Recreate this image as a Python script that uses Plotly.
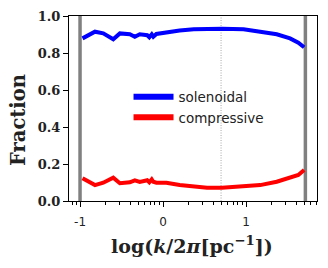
import plotly.graph_objects as go

# log10(k/2pi) values and fractions
logk = [-0.97, -0.82, -0.72, -0.60, -0.52, -0.40, -0.34, -0.28, -0.19, -0.165, -0.136, -0.117,
        -0.08, 0.04, 0.20, 0.37, 0.53, 0.71, 0.97, 1.17, 1.37, 1.53, 1.63, 1.70]
solenoidal = [0.879, 0.915, 0.906, 0.874, 0.906, 0.901, 0.888, 0.901, 0.896, 0.885, 0.901, 0.888,
              0.903, 0.912, 0.921, 0.928, 0.931, 0.931, 0.928, 0.917, 0.901, 0.879, 0.856, 0.831]
compressive = [0.123, 0.086, 0.099, 0.126, 0.096, 0.101, 0.112, 0.103, 0.112, 0.101, 0.117, 0.104,
               0.099, 0.099, 0.086, 0.077, 0.072, 0.072, 0.077, 0.086, 0.104, 0.126, 0.141, 0.168]

series_names = ["solenoidal", "compressive"]
series_colors = ["#0000ff", "#ff0000"]

resolution_limits = [-1.0, 1.715]
dotted_mark = 0.699
x_range_log = [-1.133, 1.855]
x_major = [-1, 0, 1]
x_major_labels = ["-1", "0", "1"]
y_ticks = [0.0, 0.2, 0.4, 0.6, 0.8, 1.0]

k = [10 ** v for v in logk]

fig = go.Figure()
for name, col, vals in zip(series_names, series_colors, [solenoidal, compressive]):
    fig.add_trace(go.Scatter(x=k, y=vals, mode="lines", name=name, showlegend=False,
                             line=dict(color=col, width=4)))
    # legend-only entry with a thicker sample line
    fig.add_trace(go.Scatter(x=[None], y=[None], mode="lines", name=name,
                             line=dict(color=col, width=6)))

for v in resolution_limits:
    fig.add_shape(type="line", xref="x", yref="paper", x0=10 ** v, x1=10 ** v, y0=0, y1=1,
                  line=dict(color="#808080", width=3.5), layer="below")
fig.add_shape(type="line", xref="x", yref="paper", x0=10 ** dotted_mark, x1=10 ** dotted_mark,
              y0=0, y1=1, line=dict(color="#909090", width=0.8, dash="1px,1.5px"), layer="below")

minor_vals = []
for dec in [-2, -1, 0, 1]:
    for m in range(2, 10):
        minor_vals.append(m * 10 ** dec)

fig.update_layout(
    width=328, height=268,
    margin=dict(l=69, r=11, t=16, b=67),
    plot_bgcolor="white", paper_bgcolor="white",
    showlegend=True,
    legend=dict(x=0.24, y=0.646, xanchor="left", yanchor="top",
                bgcolor="rgba(0,0,0,0)", font=dict(family="DejaVu Sans", size=13.5, color="#222"),
                itemwidth=40, tracegroupgap=0),
    annotations=[
        dict(text="<b>log(<i>k</i>/2<i>π</i>[pc<sup>−1</sup>])</b>", xref="paper", yref="paper",
             x=0.494, y=-0.238, xanchor="center", yanchor="middle", showarrow=False,
             font=dict(family="DejaVu Serif", size=19, color="#222")),
        dict(text="<b>Fraction</b>", xref="paper", yref="paper",
             x=-0.2016, y=0.438, xanchor="center", yanchor="middle", showarrow=False,
             textangle=-90, font=dict(family="DejaVu Serif", size=19.5, color="#222")),
    ],
)
fig.update_xaxes(
    type="log", range=x_range_log, automargin=False,
    tickmode="array", tickvals=[10 ** v for v in x_major], ticktext=x_major_labels,
    ticks="outside", ticklen=5, tickwidth=1, tickcolor="black", ticklabelstandoff=4,
    showline=True, linecolor="black", linewidth=1.2, mirror=True,
    showgrid=False, zeroline=False,
    tickfont=dict(family="DejaVu Sans", size=12, color="#222"),
    minor=dict(tickmode="array", tickvals=minor_vals, ticks="outside", ticklen=3,
               tickwidth=1, tickcolor="black", showgrid=False),
)
fig.update_yaxes(
    range=[0, 1], automargin=False, tickmode="array", tickvals=y_ticks,
    ticktext=["<b>%.1f</b>" % v for v in y_ticks],
    ticks="outside", ticklen=5, tickwidth=1, tickcolor="black",
    showline=True, linecolor="black", linewidth=1.2, mirror=True,
    showgrid=False, zeroline=False,
    tickfont=dict(family="DejaVu Serif", size=13, color="#222"),
)

fig.write_html("out.html", config={"displayModeBar": False},
               post_script="document.body.style.margin='0';")
